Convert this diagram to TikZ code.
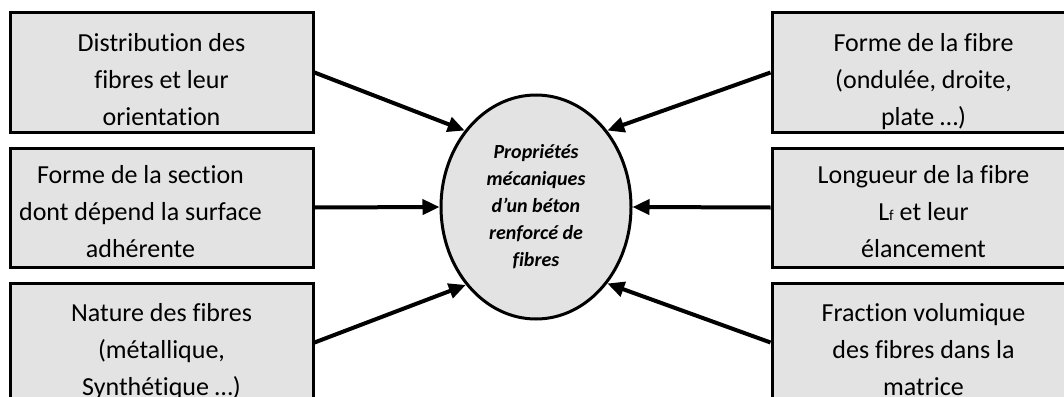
\documentclass[tikz,border=0pt]{standalone}
\usepackage{fontspec}
\setmainfont{Carlito}[Ligatures=NoCommon]
\usetikzlibrary{arrows.meta,shapes.geometric}

\newcommand{\lignes}[1]{\parbox[t]{300pt}{\centering #1}}

\tikzset{
  facteur/.style={draw, line width=3pt, fill=black!11, minimum width=303pt, minimum height=119pt, inner sep=0pt},
  texte/.style={inner sep=0pt, anchor=base, font=\fontsize{26}{37}\selectfont},
  fleche/.style={line width=4pt, -{Triangle[length=17pt,width=15pt]}}
}

\begin{document}
\begin{tikzpicture}[x=1pt,y=-1pt]
  \useasboundingbox (0,0) rectangle (1064,396);
  \clip (0,0) rectangle (1064,396);

  % facteurs a gauche
  \node[facteur] (dist) at (161.5,72.5) {};
  \node[facteur] (sect) at (161.5,207.5) {};
  \node[facteur] (nat) at (161.5,342.5) {};
  % facteurs a droite
  \node[facteur] (forme) at (923.5,72.5) {};
  \node[facteur] (long) at (923.5,207.5) {};
  \node[facteur] (frac) at (923.5,342.5) {};

  \node[texte] (tdist) at ([yshift=-40pt]dist.north) {\lignes{Distribution des\\fibres et leur\\orientation}};
  \node[texte] (tsect) at ([xshift=-21pt,yshift=-37pt]sect.north) {\lignes{Forme de la section\\dont dépend la surface\\adhérente}};
  \node[texte] (tnat) at ([yshift=-40pt]nat.north) {\lignes{Nature des fibres\\(métallique,\\Synthétique …)}};
  \node[texte] (tforme) at ([yshift=-40pt]forme.north) {\lignes{Forme de la fibre\\(ondulée, droite,\\plate …)}};
  \node[texte] (tlong) at ([yshift=-37pt]long.north) {\lignes{Longueur de la fibre\\L{\fontsize{15}{15}\selectfont f} et leur\\élancement}};
  \node[texte] (tfrac) at ([yshift=-40pt]frac.north) {\lignes{Fraction volumique\\des fibres dans la\\matrice}};

  % propriete centrale
  \node[draw, ellipse, line width=3pt, fill=black!11, minimum width=190pt, minimum height=224pt, inner sep=0pt,
        align=center, font=\bfseries\itshape\fontsize{20}{27}\selectfont] (prop) at (536,207)
        {Propriétés\\mécaniques\\d’un béton\\renforcé de\\fibres};

  \draw[fleche] (dist.east) -- (prop.133);
  \draw[fleche] (sect.east) -- (prop.west);
  \draw[fleche] (nat.east) -- (prop.228);
  \draw[fleche] (forme.west) -- (prop.47);
  \draw[fleche] (long.west) -- (prop.east);
  \draw[fleche] (frac.west) -- (prop.313);
\end{tikzpicture}
\end{document}
